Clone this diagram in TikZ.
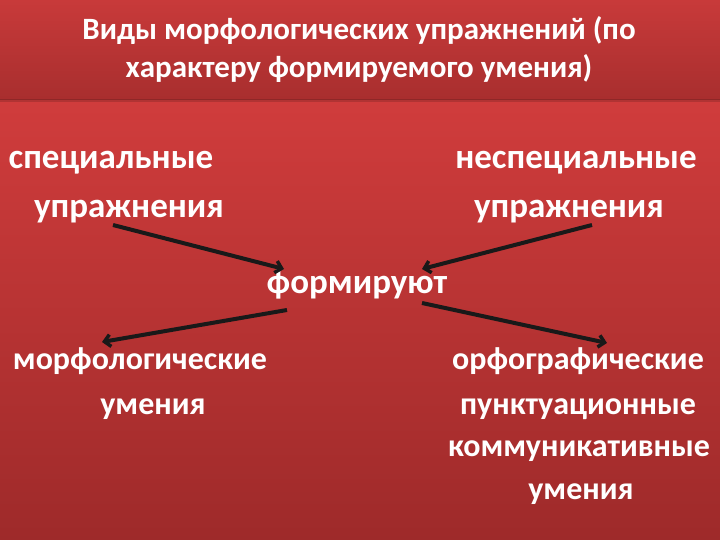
\documentclass[tikz,border=0pt]{standalone}
\usepackage{fontspec}
\setmainfont{Carlito}
\usetikzlibrary{arrows.meta}
\definecolor{bandtop}{RGB}{200,58,58}
\definecolor{bandbot}{RGB}{168,46,46}
\definecolor{bodytop}{RGB}{208,60,60}
\definecolor{bodybot}{RGB}{158,42,42}
\tikzset{
  txtbig/.style={text=white, font=\bfseries\fontsize{35}{40}\selectfont, inner sep=0pt, anchor=base},
  txtsm/.style={text=white, font=\bfseries\fontsize{32}{40}\selectfont, inner sep=0pt, anchor=base},
  ttl/.style={text=white, font=\bfseries\fontsize{31}{38}\selectfont, inner sep=0pt, anchor=base},
  arr/.style={draw=black!90, line width=4pt, -{Straight Barb[length=6pt,width=12pt,line width=3.5pt]}}
}
\begin{document}
\begin{tikzpicture}[x=1pt,y=1pt]
\useasboundingbox (0,0) rectangle (720,540);
% background
\shade[top color=bodytop, bottom color=bodybot] (0,0) rectangle (720,440);
\shade[top color=bandtop, bottom color=bandbot] (0,440) rectangle (720,540);
\fill[black, opacity=0.15] (0,438) rectangle (720,441);
% title
\node[ttl] (t1) at (359,500) {Виды морфологических упражнений (по};
\node[ttl] (t2) at (359,462) {характеру формируемого умения)};
% upper texts
\node[txtbig] (s1) at (111,371) {специальные};
\node[txtbig] (s2) at (129,322) {упражнения};
\node[txtbig] (n1) at (576,371) {неспециальные};
\node[txtbig] (n2) at (569,322) {упражнения};
% centre
\node[txtbig] (f) at (357,246) {формируют};
% lower texts
\node[txtsm] (m1) at (140,170) {морфологические};
\node[txtsm] (m2) at (153,125) {умения};
\node[txtsm] (o1) at (578,170) {орфографические};
\node[txtsm] (o2) at (578,125) {пунктуационные};
\node[txtsm] (o3) at (579,83) {коммуникативные};
\node[txtsm] (o4) at (581,40) {умения};
% arrow ends
\coordinate (a1s) at (113,315);
\coordinate (a1e) at (284,271);
\coordinate (a2s) at (592,315);
\coordinate (a2e) at (422,271);
\coordinate (a3s) at (287,230);
\coordinate (a3e) at (102,198);
\coordinate (a4s) at (422,237);
\coordinate (a4e) at (607,197);
\draw[arr] (a1s) -- (a1e);
\draw[arr] (a2s) -- (a2e);
\draw[arr] (a3s) -- (a3e);
\draw[arr] (a4s) -- (a4e);
\end{tikzpicture}
\end{document}
